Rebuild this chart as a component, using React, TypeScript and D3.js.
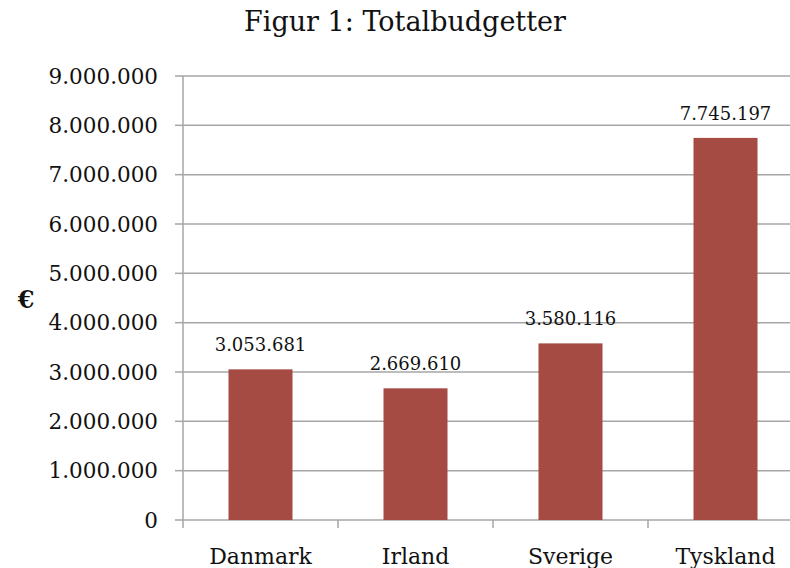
import React from "react";
import * as d3 from "d3";

const categories = ["Danmark", "Irland", "Sverige", "Tyskland"];
const values = [3053681, 2669610, 3580116, 7745197];
const yTicks = [0, 1000000, 2000000, 3000000, 4000000, 5000000, 6000000, 7000000, 8000000, 9000000];
const titleText = "Figur 1: Totalbudgetter";
const yAxisLabel = "€";

const fmt = (v: number) => {
  if (v === 0) return "0";
  return d3.format(",")(v).replace(/,/g, ".");
};

export default function App() {
  const W = 790, H = 568;
  const left = 183, right = 803, top = 76, bottom = 520;
  const x = d3.scaleBand<string>().domain(categories).range([left, right]).paddingInner(0).paddingOuter(0);
  const y = d3.scaleLinear().domain([0, 9000000]).range([bottom, top]);
  const barW = 64;
  const font = "'DejaVu Serif', serif";
  const grid = "#a6a6a6";
  return (
    <svg width={W} height={H} style={{ position: "absolute", left: 0, top: 0 }} fontFamily={font}>
      <rect width={W} height={H} fill="#fff" />
      <text x={405} y={31} textAnchor="middle" fontSize={27} fill="#111">{titleText}</text>
      {yTicks.map((t) => (
        <g key={t}>
          {t > 0 && <line x1={left} x2={W} y1={y(t)} y2={y(t)} stroke={grid} strokeWidth={1.5} />}
          <line x1={175} x2={left} y1={y(t)} y2={y(t)} stroke={grid} strokeWidth={1.5} />
          <text x={158} y={y(t)} dy="0.36em" textAnchor="end" fontSize={21.5} fill="#111">{fmt(t)}</text>
        </g>
      ))}
      <line x1={left} x2={left} y1={top} y2={bottom} stroke={grid} strokeWidth={1.5} />
      <line x1={left} x2={W} y1={bottom} y2={bottom} stroke={grid} strokeWidth={1.5} />
      {categories.map((c) => (
        <line key={"tk" + c} x1={x(c)!} x2={x(c)!} y1={bottom} y2={bottom + 8} stroke={grid} strokeWidth={1.5} />
      ))}
      {categories.map((c, i) => {
        const cx = x(c)! + x.bandwidth() / 2;
        return (
          <g key={c}>
            <rect x={cx - barW / 2} y={y(values[i])} width={barW} height={bottom - y(values[i])} fill="#a64b44" />
            <text x={cx} y={y(values[i]) - 18} textAnchor="middle" fontSize={18} fill="#111">{fmt(values[i])}</text>
            <text x={cx} y={564} textAnchor="middle" fontSize={22} fill="#111">{c}</text>
          </g>
        );
      })}
      <text x={26} y={308} textAnchor="middle" fontSize={24} fontWeight="bold" fill="#111">{yAxisLabel}</text>
    </svg>
  );
}
